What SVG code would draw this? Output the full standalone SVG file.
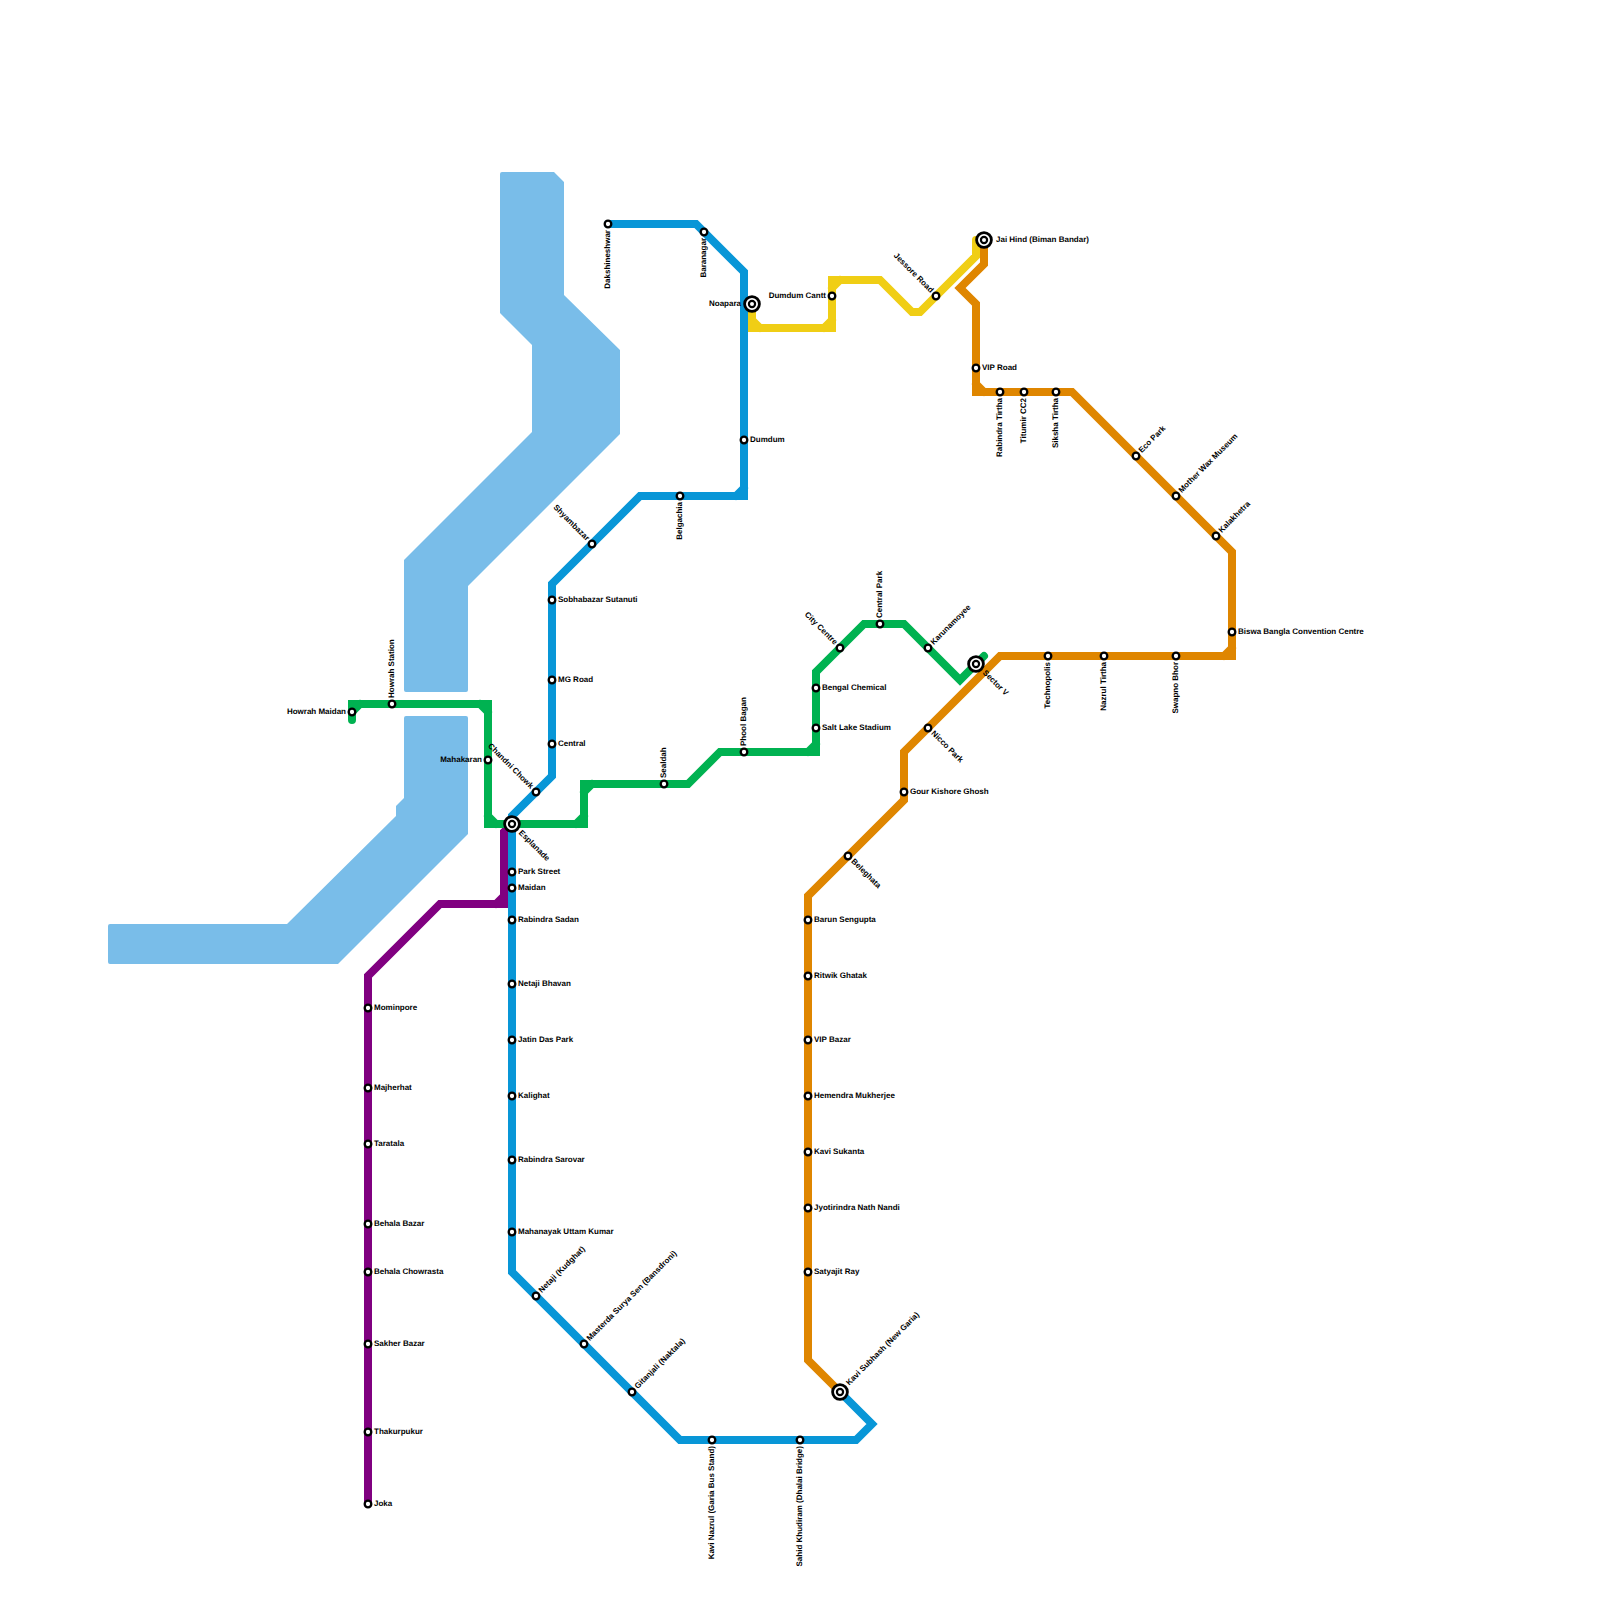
<svg xmlns="http://www.w3.org/2000/svg" width="1600" height="1600" viewBox="0 0 1600 1600">
<defs>
<style>
.ln{fill:none;stroke-width:8;stroke-linejoin:miter;stroke-linecap:round}
.st{fill:#fff;stroke:#000;stroke-width:2.3}
.r1{fill:#fff;stroke:#000;stroke-width:2.8}
.r2{fill:#fff;stroke:#000;stroke-width:2.2}
text{font-family:"Liberation Sans",Arial,sans-serif;font-size:8px;font-weight:700;fill:#000;text-rendering:geometricPrecision}
.e{text-anchor:end}
</style>
<circle id="s" class="st" r="3.3"/>
<g id="x"><circle class="r1" r="7.4"/><circle class="r2" r="3.1"/></g>
</defs>
<rect width="1600" height="1600" fill="#fff"/>
<g id="water" fill="#79bde9">
<path d="M500 174Q500 172 502 172H554L564 182V295L620 350V434L468 586V690Q468 692 466 692H406Q404 692 404 690V560L532 432V345L500 313Z"/>
<path d="M406 716H466Q468 716 468 718V834L338 964H110Q108 964 108 962V926Q108 924 110 924H287L396 816V806L404 798V718Q404 716 406 716Z"/>
</g>
<g id="connectors">
<path class="ln" stroke="#f0ce15" d="M752 304V328H832V280H880L912 312H920L976 256V240M752 320L760 328M824 328L832 320M832 288L840 280"/>
<path class="ln" stroke="#800080" d="M512 824L504 832V904H440L368 976V1504M496 904L504 896"/>
<path class="ln" stroke="#00b251" d="M352 720V704H488V824H584V784H688L720 752H816V672L864 624H904L960 680L984 656M352 712L360 704M480 704L488 712M488 816L496 824M576 824L584 816M584 792L592 784M808 752L816 744"/>
<path class="ln" stroke="#0896d7" d="M608 224H696L744 272V496H640L552 584V776L512 816V1272L680 1440H856L872 1424L840 1392M736 496L744 488"/>
<path class="ln" stroke="#df8600" d="M840 1392L808 1360V896L904 800V752L1000 656H1232V552L1072 392H976V304L960 288L984 264V240M1224 656L1232 648M976 384L984 392"/>
</g>
<g id="n-dakshineshwar" transform="translate(608 224)"><use href="#s"/><text class="e" transform="rotate(-90)" x="-6" y="1.5">Dakshineshwar</text></g>
<g id="n-baranagar" transform="translate(704 232)"><use href="#s"/><text class="e" transform="rotate(-90)" x="-6" y="1.5">Baranagar</text></g>
<g id="n-noapara" transform="translate(752 304)"><use href="#x"/><text class="e" x="-11" y="2">Noapara</text></g>
<g id="n-dumdum" transform="translate(744 440)"><use href="#s"/><text x="6" y="2">Dumdum</text></g>
<g id="n-belgachia" transform="translate(680 496)"><use href="#s"/><text class="e" transform="rotate(-90)" x="-6" y="1.5">Belgachia</text></g>
<g id="n-shyambazar" transform="translate(592 544)"><use href="#s"/><text class="e" transform="rotate(45)" x="-6" y="2">Shyambazar</text></g>
<g id="n-sobhabazar" transform="translate(552 600)"><use href="#s"/><text x="6" y="2">Sobhabazar Sutanuti</text></g>
<g id="n-mgroad" transform="translate(552 680)"><use href="#s"/><text x="6" y="2">MG Road</text></g>
<g id="n-central" transform="translate(552 744)"><use href="#s"/><text x="6" y="2">Central</text></g>
<g id="n-chandni" transform="translate(536 792)"><use href="#s"/><text class="e" transform="rotate(45)" x="-6" y="2">Chandni Chowk</text></g>
<g id="n-parkstreet" transform="translate(512 872)"><use href="#s"/><text x="6" y="2">Park Street</text></g>
<g id="n-maidan" transform="translate(512 888)"><use href="#s"/><text x="6" y="2">Maidan</text></g>
<g id="n-rabindrasadan" transform="translate(512 920)"><use href="#s"/><text x="6" y="2">Rabindra Sadan</text></g>
<g id="n-netajibhavan" transform="translate(512 984)"><use href="#s"/><text x="6" y="2">Netaji Bhavan</text></g>
<g id="n-jatindas" transform="translate(512 1040)"><use href="#s"/><text x="6" y="2">Jatin Das Park</text></g>
<g id="n-kalighat" transform="translate(512 1096)"><use href="#s"/><text x="6" y="2">Kalighat</text></g>
<g id="n-rabindrasarovar" transform="translate(512 1160)"><use href="#s"/><text x="6" y="2">Rabindra Sarovar</text></g>
<g id="n-mahanayak" transform="translate(512 1232)"><use href="#s"/><text x="6" y="2">Mahanayak Uttam Kumar</text></g>
<g id="n-kudghat" transform="translate(536 1296)"><use href="#s"/><text transform="rotate(-45)" x="6" y="2">Netaji (Kudghat)</text></g>
<g id="n-masterda" transform="translate(584 1344)"><use href="#s"/><text transform="rotate(-45)" x="6" y="2">Masterda Surya Sen (Bansdroni)</text></g>
<g id="n-gitanjali" transform="translate(632 1392)"><use href="#s"/><text transform="rotate(-45)" x="6" y="2">Gitanjali (Naktala)</text></g>
<g id="n-kavinazrul" transform="translate(712 1440)"><use href="#s"/><text class="e" transform="rotate(-90)" x="-6" y="1.5">Kavi Nazrul (Garia Bus Stand)</text></g>
<g id="n-sahid" transform="translate(800 1440)"><use href="#s"/><text class="e" transform="rotate(-90)" x="-6" y="1.5">Sahid Khudiram (Dhalai Bridge)</text></g>
<g id="n-kavisubhash" transform="translate(840 1392)"><use href="#x"/><text transform="rotate(-45)" x="11" y="2">Kavi Subhash (New Garia)</text></g>
<g id="n-esplanade" transform="translate(512 824)"><use href="#x"/><text transform="rotate(45)" x="11" y="2">Esplanade</text></g>
<g id="n-howrahmaidan" transform="translate(352 712)"><use href="#s"/><text class="e" x="-6" y="2">Howrah Maidan</text></g>
<g id="n-howrah" transform="translate(392 704)"><use href="#s"/><text transform="rotate(-90)" x="6" y="1.5">Howrah Station</text></g>
<g id="n-mahakaran" transform="translate(488 760)"><use href="#s"/><text class="e" x="-6" y="2">Mahakaran</text></g>
<g id="n-sealdah" transform="translate(664 784)"><use href="#s"/><text transform="rotate(-90)" x="6" y="1.5">Sealdah</text></g>
<g id="n-phoolbagan" transform="translate(744 752)"><use href="#s"/><text transform="rotate(-90)" x="6" y="1.5">Phool Bagan</text></g>
<g id="n-saltlake" transform="translate(816 728)"><use href="#s"/><text x="6" y="2">Salt Lake Stadium</text></g>
<g id="n-bengal" transform="translate(816 688)"><use href="#s"/><text x="6" y="2">Bengal Chemical</text></g>
<g id="n-citycentre" transform="translate(840 648)"><use href="#s"/><text class="e" transform="rotate(45)" x="-6" y="2">City Centre</text></g>
<g id="n-centralpark" transform="translate(880 624)"><use href="#s"/><text transform="rotate(-90)" x="6" y="1.5">Central Park</text></g>
<g id="n-karunamoyee" transform="translate(928 648)"><use href="#s"/><text transform="rotate(-45)" x="6" y="2">Karunamoyee</text></g>
<g id="n-sectorv" transform="translate(976 664)"><use href="#x"/><text transform="rotate(45)" x="11" y="2">Sector V</text></g>
<g id="n-dumdumcantt" transform="translate(832 296)"><use href="#s"/><text class="e" x="-6" y="2">Dumdum Cantt</text></g>
<g id="n-jessore" transform="translate(936 296)"><use href="#s"/><text class="e" transform="rotate(45)" x="-6" y="2">Jessore Road</text></g>
<g id="n-jaihind" transform="translate(984 240)"><use href="#x"/><text x="12" y="2">Jai Hind (Biman Bandar)</text></g>
<g id="n-viproad" transform="translate(976 368)"><use href="#s"/><text x="6" y="2">VIP Road</text></g>
<g id="n-rabindratirtha" transform="translate(1000 392)"><use href="#s"/><text class="e" transform="rotate(-90)" x="-6" y="1.5">Rabindra Tirtha</text></g>
<g id="n-titumir" transform="translate(1024 392)"><use href="#s"/><text class="e" transform="rotate(-90)" x="-6" y="1.5">Titumir CC2</text></g>
<g id="n-siksha" transform="translate(1056 392)"><use href="#s"/><text class="e" transform="rotate(-90)" x="-6" y="1.5">Siksha Tirtha</text></g>
<g id="n-ecopark" transform="translate(1136 456)"><use href="#s"/><text transform="rotate(-45)" x="6" y="2">Eco Park</text></g>
<g id="n-motherwax" transform="translate(1176 496)"><use href="#s"/><text transform="rotate(-45)" x="6" y="2">Mother Wax Museum</text></g>
<g id="n-kalakhetra" transform="translate(1216 536)"><use href="#s"/><text transform="rotate(-45)" x="6" y="2">Kalakhetra</text></g>
<g id="n-biswa" transform="translate(1232 632)"><use href="#s"/><text x="6" y="2">Biswa Bangla Convention Centre</text></g>
<g id="n-swapno" transform="translate(1176 656)"><use href="#s"/><text class="e" transform="rotate(-90)" x="-6" y="1.5">Swapno Bhor</text></g>
<g id="n-nazrul" transform="translate(1104 656)"><use href="#s"/><text class="e" transform="rotate(-90)" x="-6" y="1.5">Nazrul Tirtha</text></g>
<g id="n-technopolis" transform="translate(1048 656)"><use href="#s"/><text class="e" transform="rotate(-90)" x="-6" y="1.5">Technopolis</text></g>
<g id="n-nicco" transform="translate(928 728)"><use href="#s"/><text transform="rotate(45)" x="6" y="2">Nicco Park</text></g>
<g id="n-gour" transform="translate(904 792)"><use href="#s"/><text x="6" y="2">Gour Kishore Ghosh</text></g>
<g id="n-beleghata" transform="translate(848 856)"><use href="#s"/><text transform="rotate(45)" x="6" y="2">Beleghata</text></g>
<g id="n-barun" transform="translate(808 920)"><use href="#s"/><text x="6" y="2">Barun Sengupta</text></g>
<g id="n-ritwik" transform="translate(808 976)"><use href="#s"/><text x="6" y="2">Ritwik Ghatak</text></g>
<g id="n-vipbazar" transform="translate(808 1040)"><use href="#s"/><text x="6" y="2">VIP Bazar</text></g>
<g id="n-hemendra" transform="translate(808 1096)"><use href="#s"/><text x="6" y="2">Hemendra Mukherjee</text></g>
<g id="n-kavisukanta" transform="translate(808 1152)"><use href="#s"/><text x="6" y="2">Kavi Sukanta</text></g>
<g id="n-jyotirindra" transform="translate(808 1208)"><use href="#s"/><text x="6" y="2">Jyotirindra Nath Nandi</text></g>
<g id="n-satyajit" transform="translate(808 1272)"><use href="#s"/><text x="6" y="2">Satyajit Ray</text></g>
<g id="n-mominpore" transform="translate(368 1008)"><use href="#s"/><text x="6" y="2">Mominpore</text></g>
<g id="n-majherhat" transform="translate(368 1088)"><use href="#s"/><text x="6" y="2">Majherhat</text></g>
<g id="n-taratala" transform="translate(368 1144)"><use href="#s"/><text x="6" y="2">Taratala</text></g>
<g id="n-behalabazar" transform="translate(368 1224)"><use href="#s"/><text x="6" y="2">Behala Bazar</text></g>
<g id="n-behalachowrasta" transform="translate(368 1272)"><use href="#s"/><text x="6" y="2">Behala Chowrasta</text></g>
<g id="n-sakher" transform="translate(368 1344)"><use href="#s"/><text x="6" y="2">Sakher Bazar</text></g>
<g id="n-thakurpukur" transform="translate(368 1432)"><use href="#s"/><text x="6" y="2">Thakurpukur</text></g>
<g id="n-joka" transform="translate(368 1504)"><use href="#s"/><text x="6" y="2">Joka</text></g>
</svg>
